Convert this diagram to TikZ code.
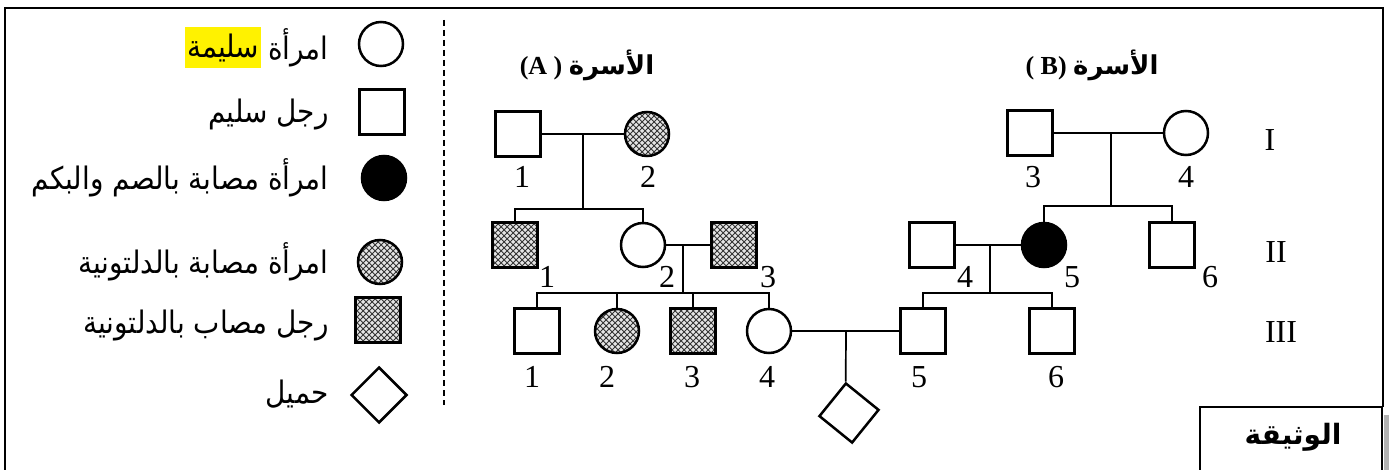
\documentclass[tikz,border=0pt]{standalone}
\usepackage{graphicx}
\usepackage{fontspec}
\setmainfont{Liberation Serif}
\newfontfamily\arabicfont[Script=Arabic]{DejaVu Sans}
\TeXXeTstate=1
\usetikzlibrary{positioning,shapes.geometric,patterns}

\newcommand{\arabtxt}[1]{{\arabicfont\beginR #1\endR}}
\newcommand{\legendtxt}[1]{\scalebox{0.9}[1]{\arabtxt{#1}}}

\begin{document}
\begin{tikzpicture}[x=0.5pt, y=-0.5pt,
	male/.style={draw, line width=1.25pt, minimum size=22.5pt, inner sep=0pt},
	female/.style={draw, circle, line width=1.25pt, minimum size=22pt, inner sep=0pt},
	hatch/.style={preaction={fill=gray!20}, pattern=crosshatch, pattern color=black!80},
	deaf/.style={fill=black},
	pregnancy/.style={draw, line width=1.25pt, minimum size=21pt, inner sep=0pt},
	num/.style={font=\fontsize{16}{17}\selectfont, inner sep=0pt},
	legend/.style={font=\arabicfont\fontsize{15.5}{16}\selectfont, anchor=east, inner sep=0pt},
	title/.style={font=\bfseries\fontsize{13}{14}\selectfont, inner sep=0pt},
	link/.style={line width=0.85pt}]
	\useasboundingbox (0,0) rectangle (1392,470);
	\draw[line width=1.2pt] (5,475) -- (5,8) -- (1383,8) -- (1383,407);

	% legend
	\node[female] (LF) at (381,44) {};
	\node[male] (LM) at (382,112) {};
	\node[female, deaf] (LD) at (384,178) {};
	\node[female, hatch] (LFH) at (380,262) {};
	\node[male, hatch] (LMH) at (378,320) {};
	\node[draw, diamond, aspect=1, line width=1.25pt, minimum size=28pt, inner sep=0pt] (LP) at (379,395) {};
	\node[legend] (tF) at (329,48) {\legendtxt{امرأة}};
	\node[legend, fill=yellow, inner xsep=1pt, inner ysep=0pt, minimum height=20.5pt, left=3pt of tF] (tFy) {\legendtxt{سليمة}};
	\node[legend] (tM) at (329,115) {\legendtxt{رجل سليم}};
	\node[legend] (tD) at (329,178) {\legendtxt{امرأة مصابة بالصم والبكم}};
	\node[legend] (tFH) at (329,262) {\legendtxt{امرأة مصابة بالدلتونية}};
	\node[legend] (tMH) at (329,326) {\legendtxt{رجل مصاب بالدلتونية}};
	\node[legend] (tP) at (329,394) {\legendtxt{حميل}};
	\coordinate (dtop) at (444,20);
	\coordinate (dbot) at (444,405);
	\draw[line width=0.9pt, dash pattern=on 3pt off 2pt] (dtop) -- (dbot);

	% family A
	\node[title] (hA) at (587,65) {(A ) \arabtxt{الأسرة}};
	\node[male] (A1) at (518,134) {};
	\node[female, hatch] (A2) at (647,134) {};
	\node[num] (nA1) at (522,177) {1};
	\node[num] (nA2) at (648,177) {2};
	\coordinate (mA) at (583,134);
	\coordinate (sA) at (583,209);
	\draw[link] (A1) -- (A2);
	\draw[link] (mA) -- (sA);

	\node[male, hatch] (AII1) at (515,245) {};
	\node[female] (AII2) at (643,245) {};
	\node[male, hatch] (AII3) at (734,245) {};
	\node[num] (nAII1) at (547,277) {1};
	\node[num] (nAII2) at (667,277) {2};
	\node[num] (nAII3) at (768,277) {3};
	\draw[link] (AII1.north) |- (sA) -| (AII2.north);
	\coordinate (mAII) at (683,245);
	\coordinate (sAII) at (683,293);
	\draw[link] (AII2) -- (AII3);
	\draw[link] (mAII) -- (sAII);

	\node[male] (AIII1) at (537,331) {};
	\node[female, hatch] (AIII2) at (617,331) {};
	\node[male, hatch] (AIII3) at (693,331) {};
	\node[female] (AIII4) at (769,331) {};
	\node[num] (nAIII1) at (532,377) {1};
	\node[num] (nAIII2) at (607,377) {2};
	\node[num] (nAIII3) at (692,377) {3};
	\node[num] (nAIII4) at (767,377) {4};
	\draw[link] (AIII1.north) |- (sAII) -| (AIII4.north);
	\draw[link] (AIII2.north) -- (AIII2.north |- sAII);
	\draw[link] (AIII3.north) -- (AIII3.north |- sAII);

	% family B
	\node[title] (hB) at (1092,65) {( B) \arabtxt{الأسرة}};
	\node[male] (B3) at (1030,133) {};
	\node[female] (B4) at (1186,133) {};
	\node[num] (nB3) at (1033,177) {3};
	\node[num] (nB4) at (1186,177) {4};
	\coordinate (mB) at (1111,133);
	\coordinate (sB) at (1111,206);
	\draw[link] (B3) -- (B4);
	\draw[link] (mB) -- (sB);

	\node[male] (BII4) at (932,245) {};
	\node[female, deaf] (BII5) at (1044,245) {};
	\node[male] (BII6) at (1172,245) {};
	\node[num] (nBII4) at (965,277) {4};
	\node[num] (nBII5) at (1072,277) {5};
	\node[num] (nBII6) at (1210,277) {6};
	\draw[link] (BII5.north) |- (sB) -| (BII6.north);
	\coordinate (mBII) at (990,245);
	\coordinate (sBII) at (990,293);
	\draw[link] (BII4) -- (BII5);
	\draw[link] (mBII) -- (sBII);

	\node[male] (BIII5) at (923,331) {};
	\node[male] (BIII6) at (1052,331) {};
	\node[num] (nBIII5) at (919,377) {5};
	\node[num] (nBIII6) at (1056,377) {6};
	\draw[link] (BIII5.north) |- (sBII) -| (BIII6.north);

	% marriage III4 x III5
	\draw[link] (AIII4) -- (BIII5);
	\coordinate (mC) at (846,331);
	\node[pregnancy, rotate=51] (P) at (849,413) {};
	\draw[link] (mC) -- (P.north east);

	% generations
	\node[num] (gI) at (1270,140) {I};
	\node[num] (gII) at (1276,252) {II};
	\node[num] (gIII) at (1281,332) {III};

	% document label
	\draw[line width=1.2pt] (1200,475) -- (1200,407) -- (1382,407) -- (1382,475);
	\draw[line width=2.5pt, gray!60] (1386,415) -- (1386,475);
	\node[font=\bfseries\fontsize{14}{15}\selectfont, inner sep=0pt] (doc) at (1293,437) {\arabtxt{الوثيقة}};
\end{tikzpicture}
\end{document}
